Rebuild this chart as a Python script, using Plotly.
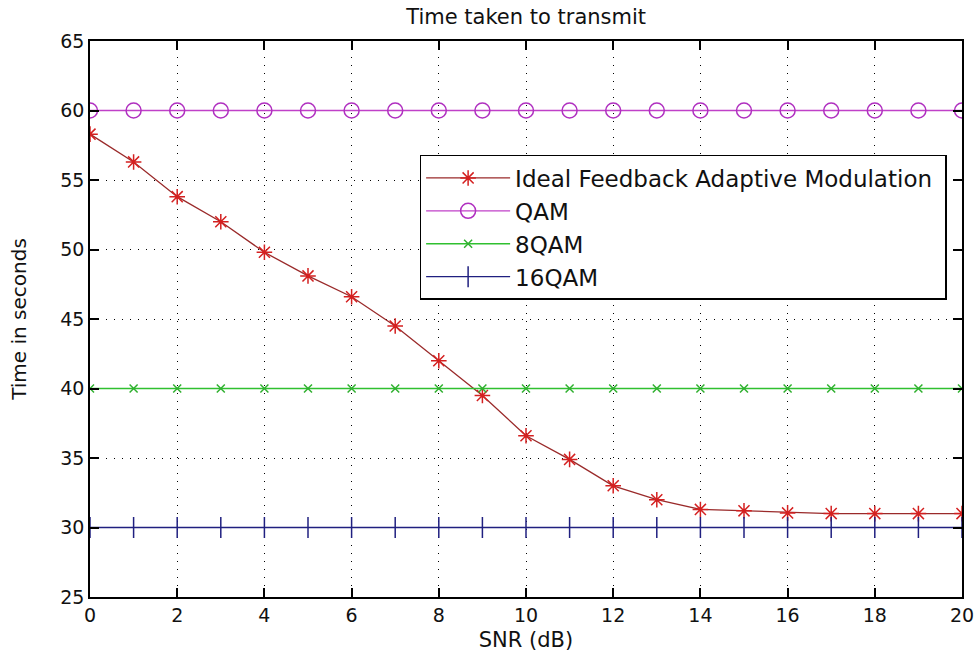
import plotly.graph_objects as go

snr = list(range(0, 21))
adaptive = [58.3, 56.3, 53.8, 52.0, 49.8, 48.1, 46.6, 44.5, 42.0, 39.5, 36.6,
            34.9, 33.0, 32.0, 31.3, 31.2, 31.05, 31.0, 31.0, 31.0, 31.0]
qam = [60] * 21
qam8 = [40] * 21
qam16 = [30] * 21

series_names = ["Ideal Feedback Adaptive Modulation\u00a0", "QAM", "8QAM", "16QAM"]
x_ticks = list(range(0, 21, 2))
y_ticks = list(range(25, 66, 5))

FONT = "DejaVu Sans"

fig = go.Figure()
styles = [
    (adaptive, "#9a2a2a", "#d42020", "asterisk-open", 13),
    (qam, "#c040c8", "#b030c0", "circle-open", 15),
    (qam8, "#30c030", "#30b030", "x-thin-open", 8),
    (qam16, "#202080", "#202080", "line-ns-open", 15),
]
for i, (name, (ys, lc, mc, sym, ms)) in enumerate(zip(series_names, styles)):
    fig.add_trace(go.Scatter(
        x=snr, y=ys, name=name, mode="lines+markers", legendgroup=f"g{i}",
        line=dict(color=lc, width=1.3),
        marker=dict(symbol=sym, size=ms, color=mc, line=dict(color=mc, width=1.5)),
    ))

axis_common = dict(
    showline=True, linecolor="black", linewidth=1.5, mirror="ticks",
    ticks="inside", ticklen=9, tickcolor="black", tickwidth=1.5,
    showgrid=True, gridcolor="black", griddash="1px,7px", gridwidth=1,
    zeroline=False, automargin=False,
    tickfont=dict(family=FONT, size=19, color="#111111"),
)
fig.update_xaxes(range=[0, 20], tickvals=x_ticks, **axis_common,
                 title=dict(text="SNR (dB)", font=dict(family=FONT, size=21, color="#111111"), standoff=8))
fig.update_yaxes(range=[25, 65], tickvals=y_ticks, **axis_common,
                 title=dict(text="Time in seconds", font=dict(family=FONT, size=20, color="#111111"), standoff=28))

fig.update_layout(
    width=978, height=658,
    margin=dict(l=90, r=16, t=41, b=61),
    paper_bgcolor="white", plot_bgcolor="white",
    title=dict(text="Time taken to transmit", x=0.538, xanchor="center", y=0.974, yanchor="middle",
               font=dict(family=FONT, size=21, color="#111111")),
    legend=dict(x=0.378, y=0.795, xanchor="left", yanchor="top",
                bgcolor="white", bordercolor="black", borderwidth=1.5,
                font=dict(family=FONT, size=23, color="#111111"),
                itemwidth=84, tracegroupgap=0, traceorder="grouped"),
    showlegend=True,
)

fig.write_html("out.html")
